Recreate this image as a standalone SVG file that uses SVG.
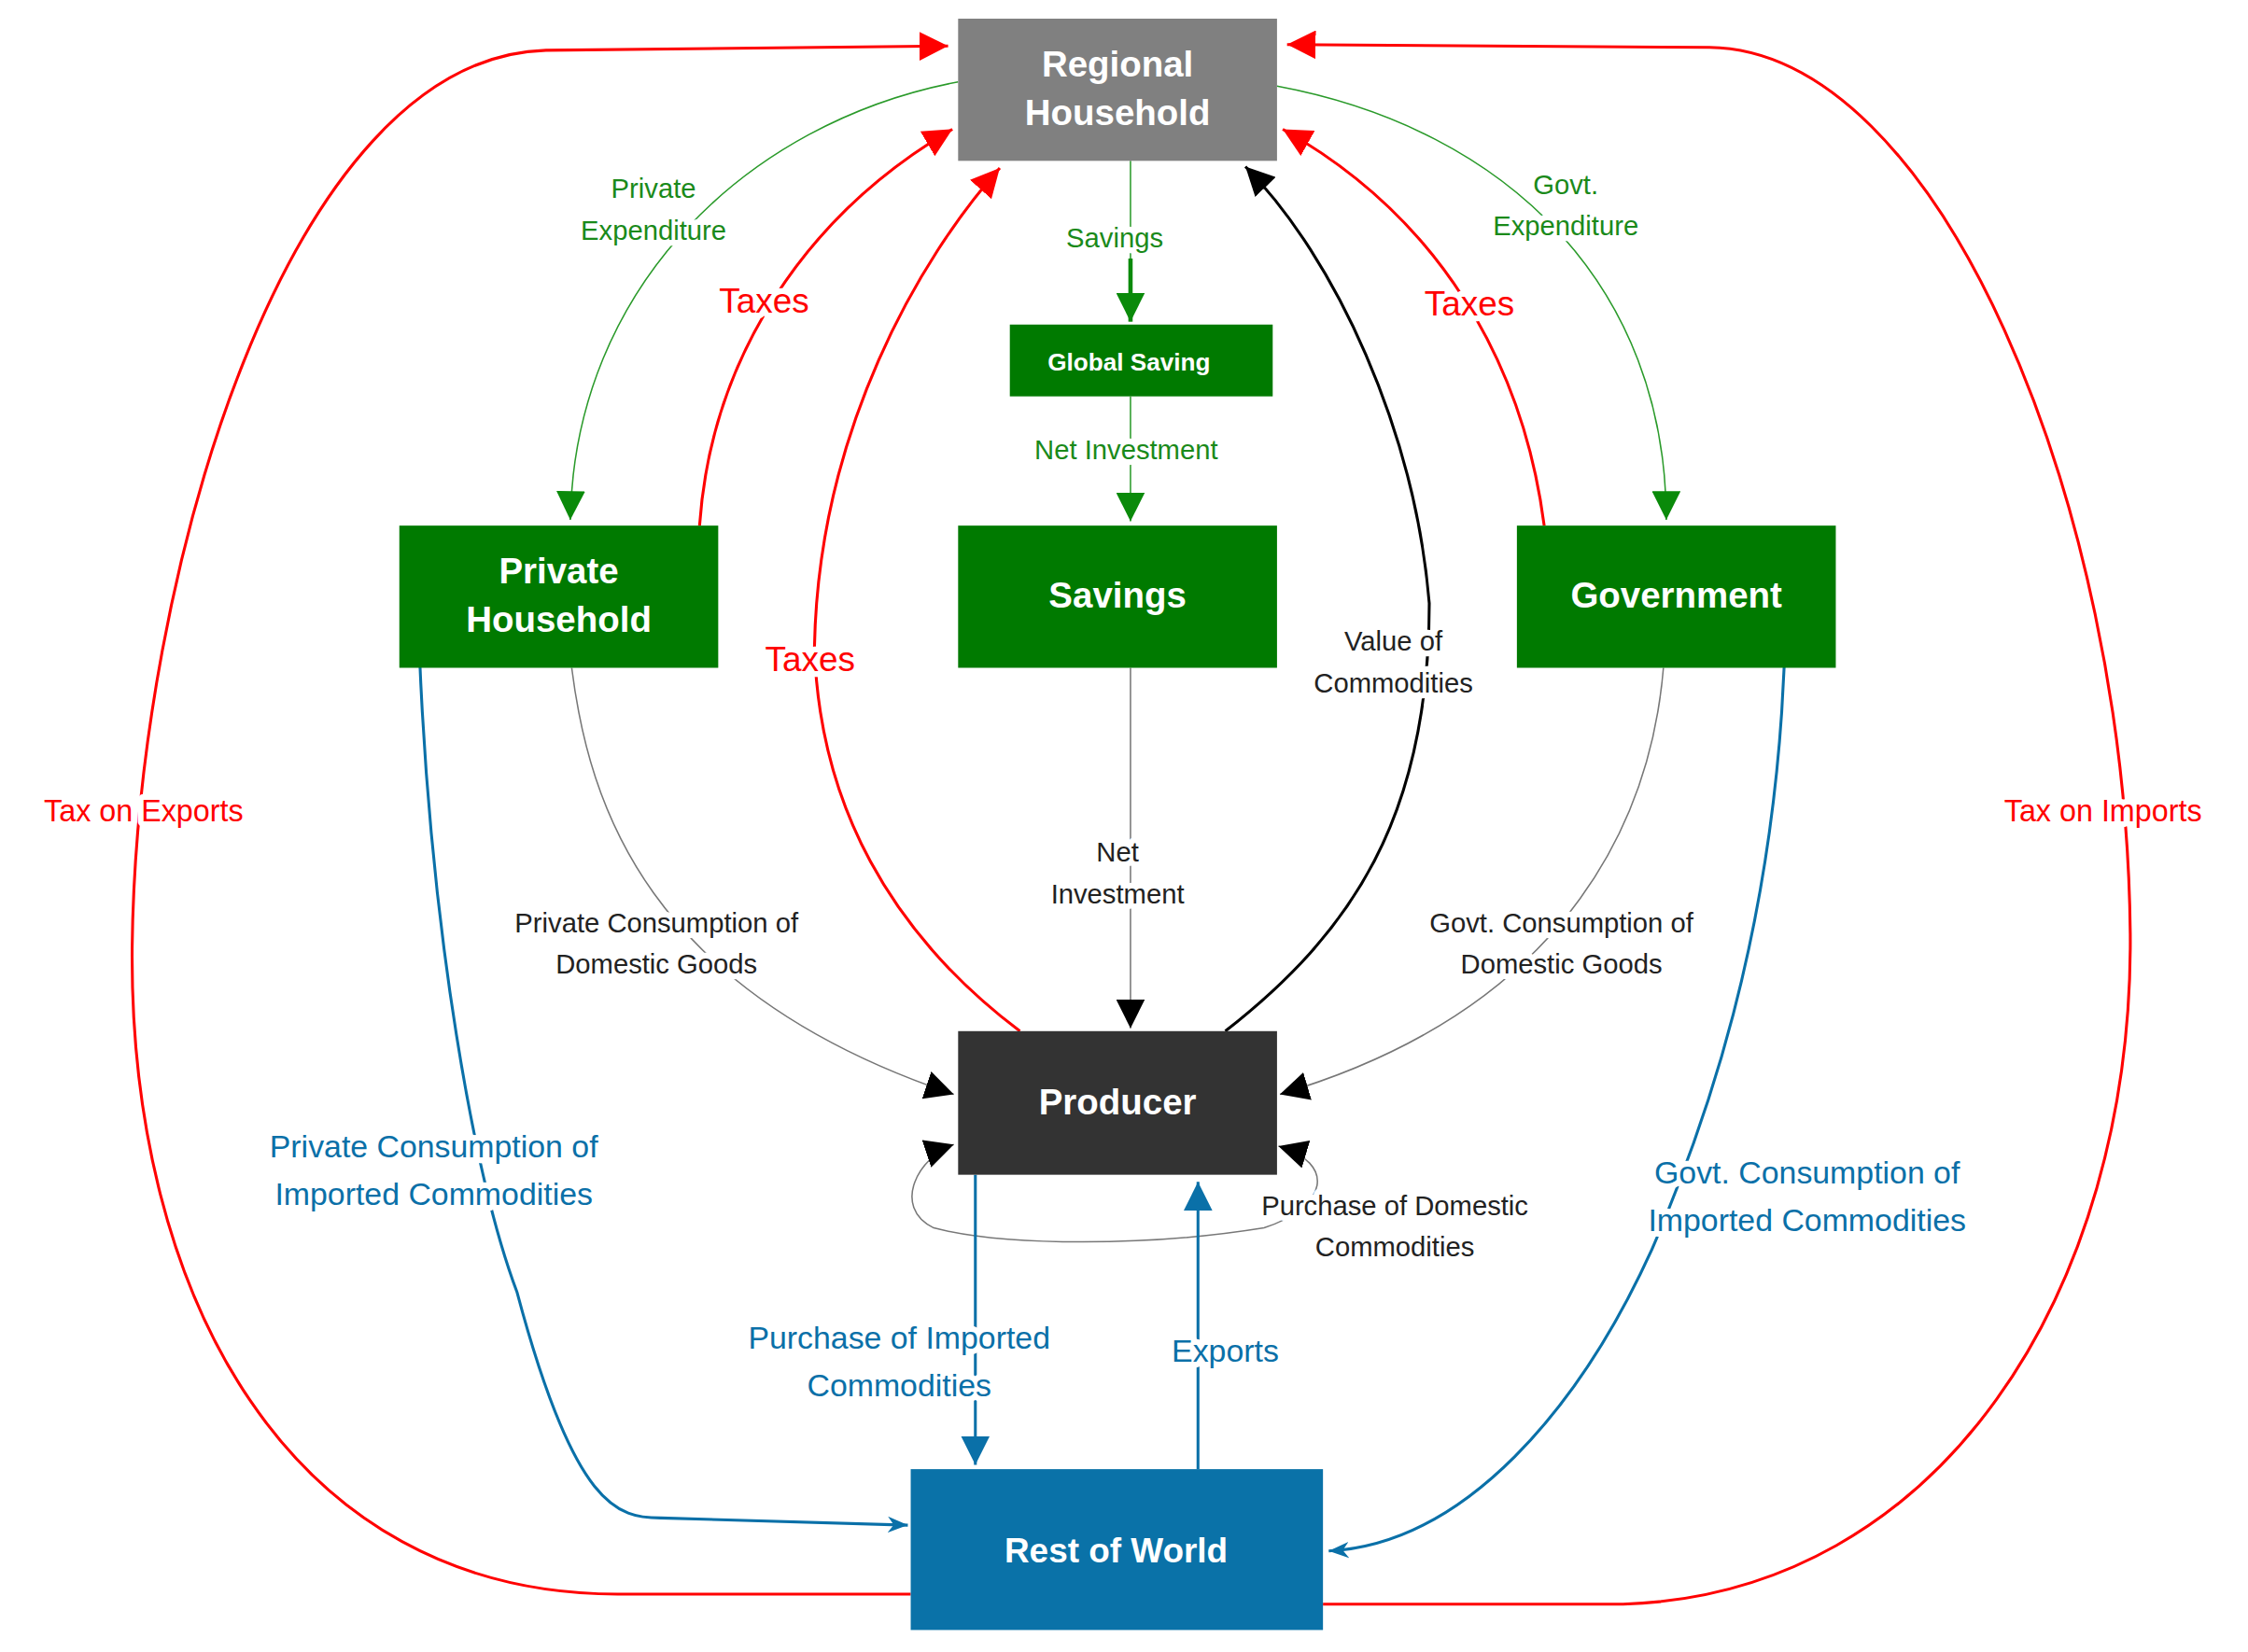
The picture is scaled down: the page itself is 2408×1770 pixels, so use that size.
<svg xmlns="http://www.w3.org/2000/svg" width="2408" height="1770" viewBox="0 0 2408 1770">
<style>
.n{font-family:"Liberation Sans",Arial,sans-serif;font-weight:bold;fill:#fff;text-anchor:middle}
.l{font-family:"Liberation Sans",Arial,sans-serif;text-anchor:middle;paint-order:stroke;stroke:#fff;stroke-width:8px;stroke-linejoin:round}
.c{fill:none}
.r{stroke:#f00;stroke-width:2}
.g{stroke:#2a9a2a;stroke-width:1}
.k{stroke:#000;stroke-width:2}
.gr{stroke:#777;stroke-width:1}
.b{stroke:#0a70a8;stroke-width:2}
</style>
<defs>
<marker id="mr" markerUnits="userSpaceOnUse" markerWidth="20" markerHeight="20" viewBox="0 0 10 10" refX="10" refY="5" orient="auto-start-reverse"><path d="M0,0L10,5L0,10z" fill="#f00"/></marker>
<marker id="mg" markerUnits="userSpaceOnUse" markerWidth="20" markerHeight="20" viewBox="0 0 10 10" refX="10" refY="5" orient="auto"><path d="M0,0L10,5L0,10z" fill="#0a8a0a"/></marker>
<marker id="mk" markerUnits="userSpaceOnUse" markerWidth="20" markerHeight="20" viewBox="0 0 10 10" refX="10" refY="5" orient="auto-start-reverse"><path d="M0,0L10,5L0,10z" fill="#000"/></marker>
<marker id="mb" markerUnits="userSpaceOnUse" markerWidth="20" markerHeight="20" viewBox="0 0 10 10" refX="10" refY="5" orient="auto"><path d="M0,0L10,5L0,10z" fill="#0a70a8"/></marker>
<marker id="mb2" markerUnits="userSpaceOnUse" markerWidth="14" markerHeight="14" viewBox="0 0 10 10" refX="10" refY="5" orient="auto"><path d="M0,1L10,5L0,9L3,5z" fill="#0a70a8"/></marker>
</defs>
<rect width="2408" height="1770" fill="#fff"/>
<g transform="scale(1.5387)">
<g id="connectors">
<path class="c r" d="M634,1110 L430,1110 C200,1110 90,900 92,660 C95,400 200,40 380,35 L660,32" marker-end="url(#mr)"/>
<path class="c r" d="M921,1117 L1130,1117 C1350,1110 1485,900 1483,650 C1480,350 1350,35 1190,33 L896,31" marker-end="url(#mr)"/>
<path class="c g" d="M667,57 C520,85 400,200 397,362" marker-end="url(#mg)"/>
<path class="c g" d="M889,60 C1050,90 1160,200 1160,362" marker-end="url(#mg)"/>
<path class="c r" d="M487,366 C495,250 560,150 663,90" marker-end="url(#mr)"/>
<path class="c r" d="M1075,366 C1060,250 1000,150 893,90" marker-end="url(#mr)"/>
<path class="c r" d="M710,718 C620,650 570,560 567,450 C570,300 640,180 696,117" marker-end="url(#mr)"/>
<path class="c k" d="M853,718 C940,650 995,570 995,420 C985,300 930,180 867,116" marker-end="url(#mk)"/>
<path class="c g" d="M787,112 L787,180"/>
<path class="c" stroke="#0a8a0a" stroke-width="3" d="M787,180 L787,224" marker-end="url(#mg)"/>
<path class="c g" d="M787,276 L787,363" marker-end="url(#mg)"/>
<path class="c gr" d="M787,465 L787,716" marker-end="url(#mk)"/>
<path class="c gr" d="M398,465 C410,560 450,690 664,762" marker-end="url(#mk)"/>
<path class="c gr" d="M1158,465 C1150,560 1100,700 891,762" marker-end="url(#mk)"/>
<path class="c gr" d="M890,798 C930,810 925,840 880,855 C800,868 700,868 650,855 C620,840 640,805 664,797" marker-start="url(#mk)" marker-end="url(#mk)"/>
<path class="c b" d="M292,455 C300,650 330,820 360,900 C400,1050 430,1057 460,1057 L632,1062" marker-end="url(#mb2)"/>
<path class="c b" d="M1243,430 C1240,650 1180,800 1150,870 C1100,980 1020,1075 925,1080" marker-end="url(#mb2)"/>
<path class="c b" d="M679,818 L679,1020" marker-end="url(#mb)"/>
<path class="c b" d="M834,1023 L834,823" marker-end="url(#mb)"/>
</g>
<g id="labels">
<text class="l" x="100" y="572" font-size="21" fill="#f00">Tax on Exports</text>
<text class="l" x="1464" y="572" font-size="21" fill="#f00">Tax on Imports</text>
<text class="l" x="455" y="138" font-size="19" fill="#1a8a1a">Private</text>
<text class="l" x="455" y="167" font-size="19" fill="#1a8a1a">Expenditure</text>
<text class="l" x="1090" y="135" font-size="19" fill="#1a8a1a">Govt.</text>
<text class="l" x="1090" y="164" font-size="19" fill="#1a8a1a">Expenditure</text>
<text class="l" x="532" y="218" font-size="24" fill="#f00">Taxes</text>
<text class="l" x="1023" y="220" font-size="24" fill="#f00">Taxes</text>
<text class="l" x="564" y="467" font-size="24" fill="#f00">Taxes</text>
<text class="l" x="776" y="172" font-size="19" fill="#1a8a1a">Savings</text>
<text class="l" x="784" y="320" font-size="19" fill="#1a8a1a">Net Investment</text>
<text class="l" x="970" y="453" font-size="19" fill="#222">Value of</text>
<text class="l" x="970" y="482" font-size="19" fill="#222">Commodities</text>
<text class="l" x="778" y="600" font-size="19" fill="#222">Net</text>
<text class="l" x="778" y="629" font-size="19" fill="#222">Investment</text>
<text class="l" x="457" y="649" font-size="19" fill="#222">Private Consumption of</text>
<text class="l" x="457" y="678" font-size="19" fill="#222">Domestic Goods</text>
<text class="l" x="1087" y="649" font-size="19" fill="#222">Govt.  Consumption of</text>
<text class="l" x="1087" y="678" font-size="19" fill="#222">Domestic Goods</text>
<text class="l" x="971" y="846" font-size="19" fill="#222">Purchase of Domestic</text>
<text class="l" x="971" y="875" font-size="19" fill="#222">Commodities</text>
<text class="l" x="302" y="806" font-size="22" fill="#0a70a8">Private Consumption of</text>
<text class="l" x="302" y="839" font-size="22" fill="#0a70a8">Imported Commodities</text>
<text class="l" x="1258" y="824" font-size="22" fill="#0a70a8">Govt. Consumption of</text>
<text class="l" x="1258" y="857" font-size="22" fill="#0a70a8">Imported Commodities</text>
<text class="l" x="626" y="939" font-size="22" fill="#0a70a8">Purchase of Imported</text>
<text class="l" x="626" y="972" font-size="22" fill="#0a70a8">Commodities</text>
<text class="l" x="853" y="948" font-size="22" fill="#0a70a8">Exports</text>
</g>
<g id="regional-household"><rect x="667" y="13" width="222" height="99" fill="#808080"/><text class="n" x="778" y="53" font-size="25">Regional</text><text class="n" x="778" y="87" font-size="25">Household</text></g>
<g id="global-saving"><rect x="703" y="226" width="183" height="50" fill="#007a00"/><text class="n" x="786" y="258" font-size="17">Global Saving</text></g>
<g id="private-household"><rect x="278" y="366" width="222" height="99" fill="#007a00"/><text class="n" x="389" y="406" font-size="25">Private</text><text class="n" x="389" y="440" font-size="25">Household</text></g>
<g id="savings"><rect x="667" y="366" width="222" height="99" fill="#007a00"/><text class="n" x="778" y="423" font-size="25">Savings</text></g>
<g id="government"><rect x="1056" y="366" width="222" height="99" fill="#007a00"/><text class="n" x="1167" y="423" font-size="25">Government</text></g>
<g id="producer"><rect x="667" y="718" width="222" height="100" fill="#333"/><text class="n" x="778" y="776" font-size="25">Producer</text></g>
<g id="rest-of-world"><rect x="634" y="1023" width="287" height="112" fill="#0a72a8"/><text class="n" x="777" y="1088" font-size="24">Rest of World</text></g>
</g>
</svg>
